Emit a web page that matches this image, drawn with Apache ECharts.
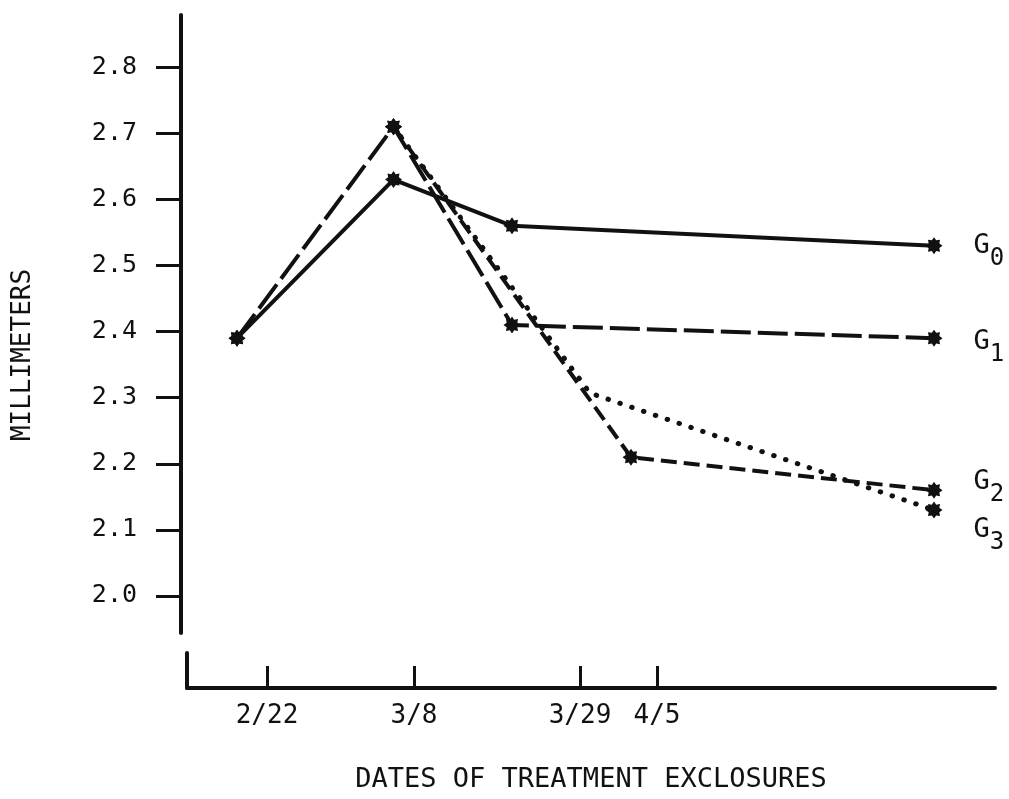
<!DOCTYPE html>
<html>
<head>
<meta charset="utf-8">
<script src="https://cdn.jsdelivr.net/npm/echarts@6/dist/echarts.min.js"></script>
<style>
  html, body { margin: 0; padding: 0; background: #fff; }
  #chart { width: 1009px; height: 799px; }
</style>
</head>
<body>
<div id="chart"></div>
<script>
// ---- data (x in arbitrary axis units along the date axis) ----
const xTickValues = [8.0, 22.7, 39.3, 47.0];
const xTickLabels = ['2/22', '3/8', '3/29', '4/5'];
const yTickValues = [2.0, 2.1, 2.2, 2.3, 2.4, 2.5, 2.6, 2.7, 2.8];

const g0X = [5.0, 20.65, 32.5, 74.7];
const g0Y = [2.39, 2.63, 2.56, 2.53];

const g1X = [5.0, 20.65, 32.5, 74.7];
const g1Y = [2.39, 2.71, 2.41, 2.39];

const g2X = [20.65, 44.4, 74.7];
const g2Y = [2.71, 2.21, 2.16];

const g3X = [20.65, 40.3, 74.7];
const g3Y = [2.71, 2.307, 2.13];
const g3Marked = [true, false, true];

const seriesNames = ['0', '1', '2', '3'];

// ---- chart ----
const FONT = 'DejaVu Sans Mono';
const INK = '#111';

function starPath(points, rOut, rIn) {
  let d = '';
  for (let i = 0; i < points * 2; i++) {
    const r = i % 2 === 0 ? rOut : rIn;
    const a = Math.PI * i / points;
    const px = (50 + r * Math.cos(a)).toFixed(2);
    const py = (50 + r * Math.sin(a)).toFixed(2);
    d += (i === 0 ? 'M' : 'L') + px + ' ' + py + ' ';
  }
  return 'path://' + d + 'Z';
}
const STAR = starPath(8, 50, 34);

function buildData(xs, ys, sub, labelDy, marked) {
  return xs.map((x, i) => {
    const item = { value: [x, ys[i]] };
    if (marked && !marked[i]) item.symbol = 'none';
    if (i === xs.length - 1) {
      item.label = {
        show: true,
        position: 'right',
        distance: 31,
        offset: [0, labelDy],
        formatter: '{g|G}{s|' + sub + '}',
        rich: {
          g: { fontFamily: FONT, fontSize: 27, color: INK, padding: [0, 0, 13, 0] },
          s: { fontFamily: FONT, fontSize: 24, color: INK, padding: [13, 0, 0, 0] }
        }
      };
    }
    return item;
  });
}

const baseSeries = {
  type: 'line',
  xAxisIndex: 0,
  yAxisIndex: 0,
  symbol: STAR,
  symbolSize: 17,
  itemStyle: { color: INK },
  silent: true,
  z: 3
};

const chart = echarts.init(document.getElementById('chart'), null, { renderer: 'canvas' });
chart.setOption({
  animation: false,
  backgroundColor: '#fff',
  grid: [
    { left: 187, right: 14, top: 15, bottom: 166 },
    { left: 187, right: 14, top: 653, bottom: 111 }
  ],
  xAxis: [
    { type: 'value', gridIndex: 0, min: 0, max: 80.8, show: false },
    {
      type: 'value', gridIndex: 1, min: 0, max: 80.8,
      splitLine: { show: false },
      axisLine: { show: true, onZero: false, lineStyle: { color: INK, width: 4 } },
      axisTick: { show: true, inside: true, length: 22, customValues: xTickValues, lineStyle: { color: INK, width: 3 } },
      axisLabel: {
        show: true, margin: 15, customValues: xTickValues,
        fontFamily: FONT, fontSize: 26, color: INK,
        formatter: v => {
          const i = xTickValues.findIndex(t => Math.abs(t - v) < 1e-6);
          return i >= 0 ? xTickLabels[i] : '';
        }
      },
      name: 'DATES OF TREATMENT EXCLOSURES',
      nameLocation: 'middle',
      nameGap: 78,
      nameTextStyle: { fontFamily: FONT, fontSize: 27, color: INK }
    }
  ],
  yAxis: [
    {
      type: 'value', gridIndex: 0, min: 1.944, max: 2.879, offset: 6,
      splitLine: { show: false },
      axisLine: { show: true, onZero: false, lineStyle: { color: INK, width: 4 } },
      axisTick: { show: true, inside: false, length: 25, customValues: yTickValues, lineStyle: { color: INK, width: 3 } },
      axisLabel: {
        show: true, margin: 44, customValues: yTickValues,
        fontFamily: FONT, fontSize: 25, color: INK,
        formatter: v => v.toFixed(1)
      },
      name: 'MILLIMETERS',
      nameLocation: 'middle',
      nameGap: 145,
      nameTextStyle: { fontFamily: FONT, fontSize: 26, color: INK, padding: [0, 62, 0, 0] }
    },
    {
      type: 'value', gridIndex: 1, min: 0, max: 1,
      splitLine: { show: false },
      axisLine: { show: true, onZero: false, lineStyle: { color: INK, width: 4 } },
      axisTick: { show: false },
      axisLabel: { show: false }
    }
  ],
  series: [
    Object.assign({}, baseSeries, {
      name: 'G0',
      data: buildData(g0X, g0Y, seriesNames[0], 6.5),
      lineStyle: { color: INK, width: 4, type: 'solid' }
    }),
    Object.assign({}, baseSeries, {
      name: 'G1',
      data: buildData(g1X, g1Y, seriesNames[1], 10.5),
      lineStyle: { color: INK, width: 4, type: [30, 7] }
    }),
    Object.assign({}, baseSeries, {
      name: 'G2',
      data: buildData(g2X, g2Y, seriesNames[2], -1.5),
      lineStyle: { color: INK, width: 4, type: [16, 7] }
    }),
    Object.assign({}, baseSeries, {
      name: 'G3',
      data: buildData(g3X, g3Y, seriesNames[3], 26.5, g3Marked),
      lineStyle: { color: INK, width: 5, type: [0.5, 12], cap: 'round' }
    })
  ]
});
</script>
</body>
</html>
